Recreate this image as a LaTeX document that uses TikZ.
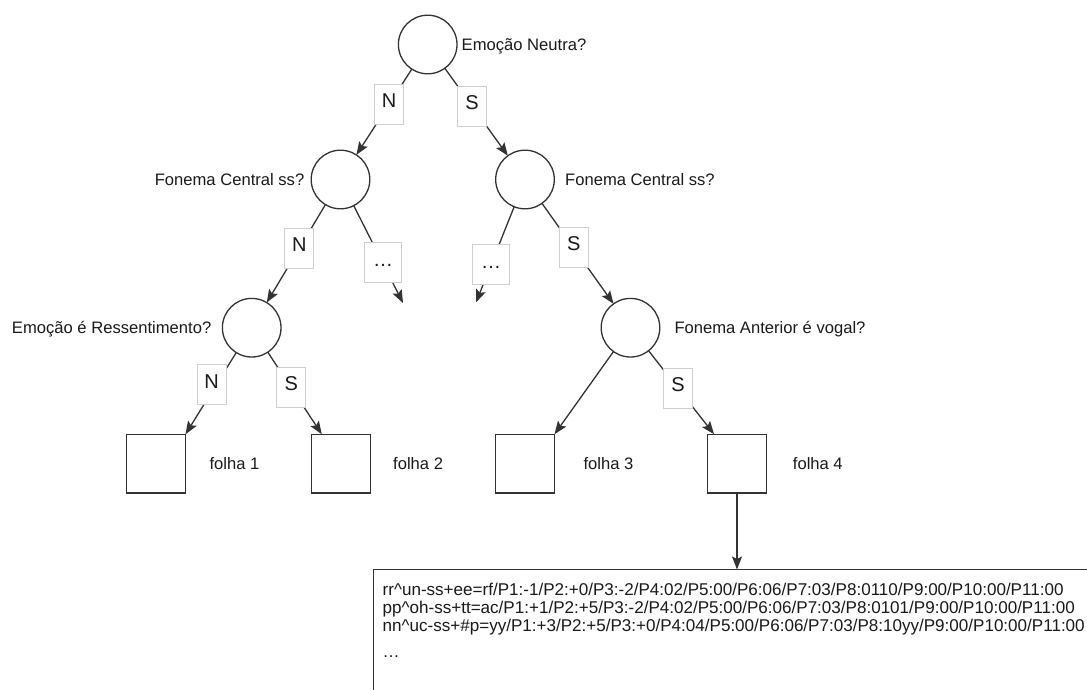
\documentclass[tikz,border=0pt]{standalone}
\usepackage{fontspec}
\setmainfont{Liberation Sans}
\usetikzlibrary{arrows.meta,calc}

\definecolor{ink}{HTML}{1A1A1A}
\definecolor{stroke}{HTML}{333333}
\definecolor{tagline}{HTML}{CFCFCF}

\begin{document}
\begin{tikzpicture}[x=1pt,y=-1pt,
  font=\fontsize{16.6}{18}\selectfont, text=ink,
  decision/.style={circle, draw=stroke, line width=1.3pt, fill=white,
    minimum size=58.6pt, inner sep=0pt, outer sep=0pt},
  leaf/.style={rectangle, draw=stroke, line width=1.5pt, fill=white,
    minimum width=59pt, minimum height=58.5pt, inner sep=0pt, outer sep=0pt},
  tag/.style={rectangle, draw=tagline, line width=0.8pt, fill=white,
    minimum width=29pt, minimum height=40pt, inner sep=0pt,
    font=\fontsize{20}{22}\selectfont, text height=0.72em, text depth=0pt},
  widetag/.style={tag, minimum width=37pt},
  question/.style={inner sep=0pt},
  link/.style={draw=stroke, line width=1.3pt,
    -{Stealth[length=13pt,width=10pt,inset=2.5pt]}},
  databox/.style={rectangle, draw=stroke, line width=1.4pt, fill=white,
    minimum width=800pt, minimum height=200pt, inner sep=0pt, outer sep=0pt}
]
\useasboundingbox (0,0) rectangle (1087,689);
\clip (0,0) rectangle (1087,689);

% decision nodes
\node[decision] (q0) at (427.7,44.5) {};
\node[decision] (q1) at (340.5,179.5) {};
\node[decision] (q2) at (525,179.5) {};
\node[decision] (q3) at (251.7,327.7) {};
\node[decision] (q4) at (630.5,327.7) {};

% leaves
\node[leaf] (f1) at (156,463.5) {};
\node[leaf] (f2) at (341,463.5) {};
\node[leaf] (f3) at (525,463.5) {};
\node[leaf] (f4) at (737,463.5) {};

% questions beside the decision nodes
\node[question, anchor=base west] (t0) at (461.5,50.3) {Emoção Neutra?};
\node[question, anchor=base east] (t1) at (304.5,185.3) {Fonema Central ss?};
\node[question, anchor=base west] (t2) at (565,185.3) {Fonema Central ss?};
\node[question, anchor=base east] (t3) at (211.5,333.5) {Emoção é Ressentimento?};
\node[question, anchor=base west] (t4) at (674.3,333.5) {Fonema Anterior é vogal?};

% leaf names
\node[question, anchor=base west] (l1) at (209.3,469.3) {folha 1};
\node[question, anchor=base west] (l2) at (393,469.3) {folha 2};
\node[question, anchor=base west] (l3) at (583.3,469.3) {folha 3};
\node[question, anchor=base west] (l4) at (792.7,469.3) {folha 4};

% rows stored in folha 4
\node[databox, anchor=north west] (data) at (373.7,569.5) {};
\node[question, anchor=north west, align=left,
      font=\fontsize{17.05}{18.2}\selectfont] (rows) at (382.5,582.6)
  {rr\textasciicircum un-ss+ee=rf/P1:-1/P2:+0/P3:-2/P4:02/P5:00/P6:06/P7:03/P8:0110/P9:00/P10:00/P11:00\\
   pp\textasciicircum oh-ss+tt=ac/P1:+1/P2:+5/P3:-2/P4:02/P5:00/P6:06/P7:03/P8:0101/P9:00/P10:00/P11:00\\
   nn\textasciicircum uc-ss+\#p=yy/P1:+3/P2:+5/P3:+0/P4:04/P5:00/P6:06/P7:03/P8:10yy/P9:00/P10:00/P11:00\\[7.5pt]
   …};

% open branches
\coordinate (d1) at (403,303);
\coordinate (d2) at (476,302.5);

% connectors
\draw[link] (q0) -- (q1);
\draw[link] (q0) -- (q2);
\draw[link] (q1) -- (q3);
\draw[link] (q1) -- (d1);
\draw[link] (q2) -- (d2);
\draw[link] (q2) -- (q4);
\draw[link] (q3) -- (f1.north east);
\draw[link] (q3) -- (f2);
\draw[link] (q4) -- (f3.north east);
\draw[link] (q4) -- (f4);
\draw[link] (f4) -- (f4.south |- data.north);

% branch answers
\node[tag] (a01) at (389,104.3) {N};
\node[tag] (a02) at (472,106) {S};
\node[tag] (a13) at (299.3,248.3) {N};
\node[widetag] (a1d) at (383,262.5) {…};
\node[widetag] (a2d) at (491,264.8) {…};
\node[tag] (a24) at (573.8,247) {S};
\node[tag] (a31) at (211.7,384.7) {N};
\node[tag] (a32) at (291.3,387.3) {S};
\node[tag] (a44) at (678,388.3) {S};
\end{tikzpicture}
\end{document}
